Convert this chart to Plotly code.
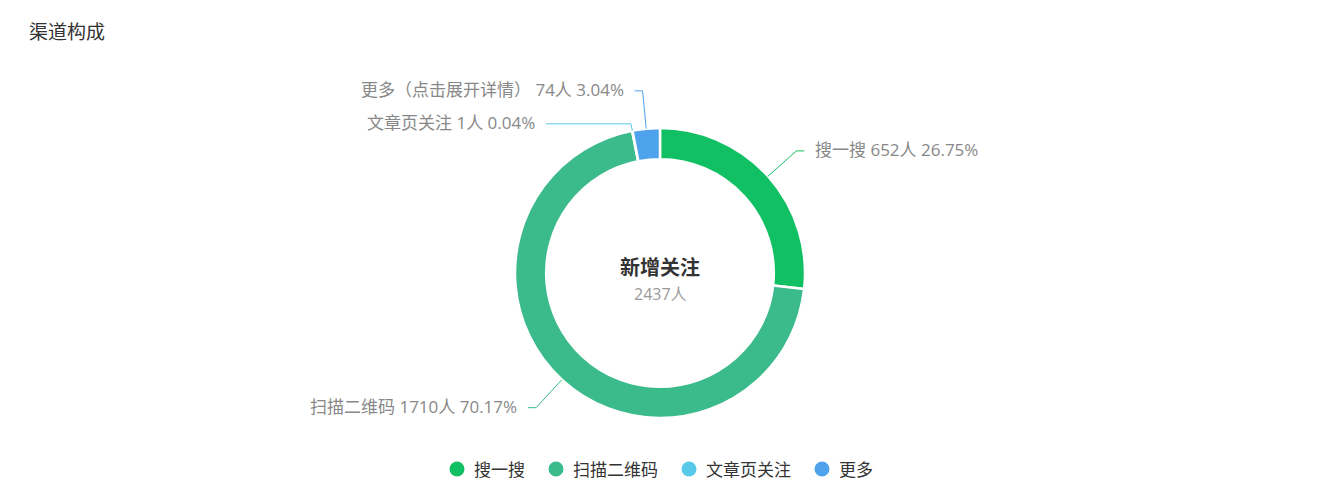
import math
import plotly.graph_objects as go

# ---- data ----
title_text = "渠道构成"
categories = ["搜一搜", "扫描二维码", "文章页关注", "更多"]
label_names = ["搜一搜", "扫描二维码", "文章页关注", "更多（点击展开详情）"]
values = [652, 1710, 1, 74]
percents = ["26.75%", "70.17%", "0.04%", "3.04%"]
colors = ["#12C064", "#3BBA8C", "#58C9E9", "#4EA3EC"]
center_title = "新增关注"
center_value = "2437人"

# ---- geometry (pixels in the browser page) ----
W, H = 1328, 500
OFF = 8  # default page body margin
CX, CY, R = 660, 273, 145
HOLE = 0.785
LEN1, LEN2, GAP = 38, 8, 9
CJK = "Noto Sans CJK SC"
FONT = "Open Sans, " + CJK


def px(x, y):
    return (x - OFF) / W, 1 - (y - OFF) / H


fig = go.Figure()
fig.add_trace(go.Pie(
    labels=categories, values=values, sort=False, direction="clockwise",
    rotation=0, hole=HOLE, textinfo="none", hoverinfo="label+value+percent",
    marker=dict(colors=colors, line=dict(color="white", width=2.5)),
    domain=dict(x=[(CX - R - OFF) / W, (CX + R - OFF) / W],
                y=[1 - (CY + R - OFF) / H, 1 - (CY - R - OFF) / H]),
    showlegend=False,
))

# ---- leader lines + labels computed from values ----
total = sum(values)
cum = 0
items = []
for i, v in enumerate(values):
    mid = (cum + v / 2) / total * 2 * math.pi
    cum += v
    dx, dy = math.sin(mid), -math.cos(mid)
    sx, sy = CX + R * dx, CY + R * dy
    ey = CY + (R + LEN1) * dy
    items.append(dict(i=i, dx=dx, dy=dy, sx=sx, sy=sy, y=ey, right=dx >= 0))

MIN_GAP = 33
for side in (True, False):
    grp = sorted([it for it in items if it["right"] == side], key=lambda t: t["y"])
    for a, b in zip(grp, grp[1:]):
        if b["y"] - a["y"] < MIN_GAP:
            b["y"] = a["y"] + MIN_GAP

shapes = []
annotations = []
RR = R + LEN1
for it in items:
    i = it["i"]
    y = it["y"]
    t = (it["sy"] - y) / (-it["dy"]) if abs(it["dy"]) > 1e-6 else LEN1
    ex = it["sx"] + it["dx"] * t
    ddy = CY - y
    half = math.sqrt(max(RR * RR - ddy * ddy, 0))
    sign = 1 if it["right"] else -1
    endx = CX + sign * half + sign * LEN2
    p0 = px(it["sx"], it["sy"]); p1 = px(ex, y); p2 = px(endx, y)
    shapes.append(dict(type="path", xref="paper", yref="paper",
                       path=f"M {p0[0]},{p0[1]} L {p1[0]},{p1[1]} L {p2[0]},{p2[1]}",
                       line=dict(color=colors[i], width=1)))
    txt = f"{label_names[i]} {values[i]}人 {percents[i]}"
    lx, ly = px(endx + sign * GAP, y - 1)
    annotations.append(dict(x=lx, y=ly, xref="paper", yref="paper", text=txt,
                            showarrow=False, xanchor="left" if it["right"] else "right",
                            yanchor="middle", font=dict(size=17, color="#888888", family=FONT)))

# ---- centre text ----
cx_p = px(CX, CY)[0]
annotations.append(dict(x=cx_p, y=px(CX, 267)[1], xref="paper", yref="paper",
                        text=f"<b>{center_title}</b>", showarrow=False, yanchor="middle",
                        font=dict(size=20, color="#333333", family=FONT)))
annotations.append(dict(x=cx_p, y=px(CX, 294)[1], xref="paper", yref="paper",
                        text=center_value, showarrow=False, yanchor="middle",
                        font=dict(size=16, color="#9a9a9a", family=FONT)))
# ---- title ----
annotations.append(dict(x=px(27, 0)[0], y=px(0, 32)[1], xref="paper", yref="paper",
                        text=title_text, showarrow=False, xanchor="left", yanchor="middle",
                        font=dict(size=19, color="#333333", family=FONT)))

# ---- legend (round symbols, centred under the donut) ----
LEG_Y, DOT, TXT_OFF, LEG_FS, ITEM_GAP = 469, 15, 22, 17, 26
widths = [TXT_OFF + LEG_FS * len(c) for c in categories]
x = CX - (sum(widths) + ITEM_GAP * (len(widths) - 1)) / 2
for c, col, w in zip(categories, colors, widths):
    a0 = px(x, LEG_Y + DOT / 2); a1 = px(x + DOT, LEG_Y - DOT / 2)
    shapes.append(dict(type="circle", xref="paper", yref="paper",
                       x0=a0[0], y0=a0[1], x1=a1[0], y1=a1[1],
                       fillcolor=col, line=dict(width=0)))
    tp = px(x + TXT_OFF, LEG_Y)
    annotations.append(dict(x=tp[0], y=tp[1], xref="paper", yref="paper", text=c,
                            showarrow=False, xanchor="left", yanchor="middle",
                            font=dict(size=LEG_FS, color="#333333", family=FONT)))
    x += w + ITEM_GAP

fig.update_layout(
    width=W, height=H, margin=dict(l=0, r=0, t=0, b=0),
    paper_bgcolor="white", plot_bgcolor="white",
    xaxis=dict(visible=False), yaxis=dict(visible=False),
    shapes=shapes, annotations=annotations, showlegend=False,
    font=dict(family=FONT),
)
fig.write_html("out.html")
